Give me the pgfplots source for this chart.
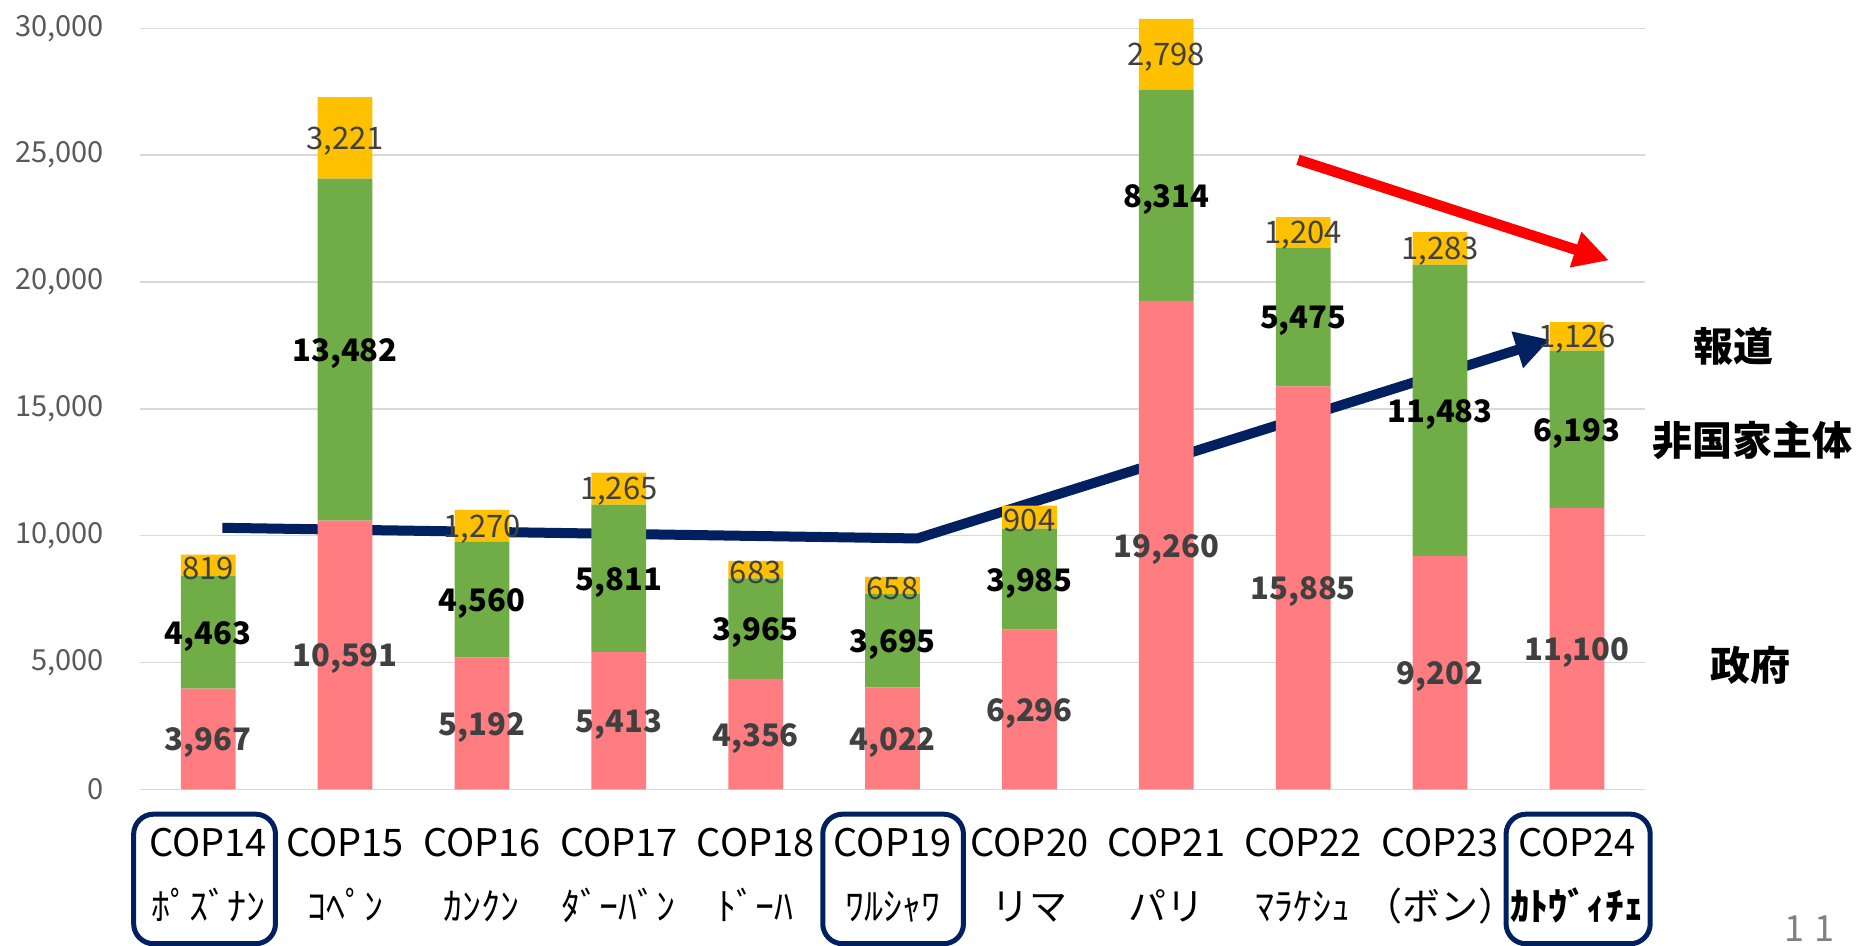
\documentclass[border=0pt]{standalone}
\usepackage{pgfplots}
\pgfplotsset{compat=1.18}
\usepackage{pgfplotstable}
\usepackage{fontspec}
\setmainfont{Noto Sans CJK JP}
\usetikzlibrary{arrows.meta,calc}
\definecolor{gov}{HTML}{FF7C80}
\definecolor{nsa}{HTML}{70AD47}
\definecolor{med}{HTML}{FFC000}
\definecolor{navy}{HTML}{002060}
\definecolor{lab}{HTML}{404040}
\definecolor{tickc}{HTML}{595959}
\definecolor{gridc}{HTML}{D9D9D9}

\pgfplotstableread{
x gov nsa med
0 3967 4463 819
1 10591 13482 3221
2 5192 4560 1270
3 5413 5811 1265
4 4356 3965 683
5 4022 3695 658
6 6296 3985 904
7 19260 8314 2798
8 15885 5475 1204
9 9202 11483 1283
10 11100 6193 1126
}\data

\begin{document}
\begin{tikzpicture}
\begin{axis}[
  scale only axis, width=752.9pt, height=380.5pt,
  xmin=-0.5, xmax=10.5, ymin=0, ymax=30000,
  clip=false,
  ybar stacked, bar width=0.4,
  axis line style={draw=none},
  major tick length=0pt,
  ytick={0,5000,...,30000},
  scaled y ticks=false,
  ymajorgrids, grid style={gridc, line width=0.75pt},
  /pgf/number format/1000 sep={,},
  /pgf/number format/assume math mode=true,
  yticklabel style={font=\fontsize{14.5}{17}\selectfont, text=tickc, xshift=-14.5pt},
  xtick={0,...,10},
  xticklabels={{COP14\\ﾎﾟｽﾞﾅﾝ},{COP15\\ｺﾍﾟﾝ},{COP16\\ｶﾝｸﾝ},{COP17\\ﾀﾞｰﾊﾞﾝ},{COP18\\ﾄﾞｰﾊ},{COP19\\ﾜﾙｼｬﾜ},{COP20\\リマ},{COP21\\パリ},{COP22\\ﾏﾗｹｼｭ},{COP23\\（ボン）},{COP24\\\textbf{ｶﾄｳﾞｨﾁｪ}}},
  xticklabel style={align=center, font=\fontsize{19}{32}\selectfont, text=black, yshift=-16pt},
]
\addplot[fill=gov, draw=none, nodes near coords, point meta=explicit,
  nodes near coords style={anchor=center, yshift=-2pt, font=\fontsize{15.5}{18}\selectfont\bfseries, text=lab}]
  table[x=x, y=gov, meta=gov] {\data};
\addplot[fill=nsa, draw=none, nodes near coords, point meta=explicit,
  nodes near coords style={anchor=center, yshift=-2pt, font=\fontsize{15.5}{18}\selectfont\bfseries, text=black}]
  table[x=x, y=nsa, meta=nsa] {\data};
\addplot[fill=med, draw=none, nodes near coords, point meta=explicit,
  nodes near coords style={anchor=center, yshift=-1.5pt, font=\fontsize{15.5}{18}\selectfont, text=lab}]
  table[x=x, y=med, meta=med] {\data};

% annotation arrows
\draw[red, line width=5.3pt, -{Triangle[length=17.5pt,width=17.5pt]}] (axis cs:7.962,24820) -- (axis cs:10.233,20855);
\draw[navy, line width=5pt, -{Triangle[length=17pt,width=18pt]}] (axis cs:0.104,10311) -- (axis cs:5.181,9891) -- (axis cs:9.801,17729);

% boxes around labels
\draw[navy, line width=2.5pt, rounded corners=10pt] ([yshift=-12.4pt]axis cs:-0.544,0) rectangle ([yshift=-77.2pt]axis cs:0.492,0);
\draw[navy, line width=2.5pt, rounded corners=10pt] ([yshift=-12.4pt]axis cs:4.490,0) rectangle ([yshift=-77.2pt]axis cs:5.518,0);
\draw[navy, line width=2.5pt, rounded corners=10pt] ([yshift=-12.4pt]axis cs:9.482,0) rectangle ([yshift=-77.2pt]axis cs:10.535,0);

% right side category labels
\node[font=\fontsize{20}{24}\selectfont\bfseries] at (axis cs:11.14,17449) {報道};
\node[font=\fontsize{20}{24}\selectfont\bfseries] at (axis cs:11.28,13763) {非国家主体};
\node[font=\fontsize{20}{24}\selectfont\bfseries] at (axis cs:11.27,4899) {政府};
\node[font=\fontsize{18}{22}\selectfont, text=gray] at (axis cs:11.70,-5505) {1\hspace{5pt}1};
\end{axis}
\pgfresetboundingbox
\path[use as bounding box] ($(current axis.south west)+(-69.85pt,-78.25pt)$) rectangle ($(current axis.north east)+(105.3pt,14.2pt)$);
\end{tikzpicture}
\end{document}
